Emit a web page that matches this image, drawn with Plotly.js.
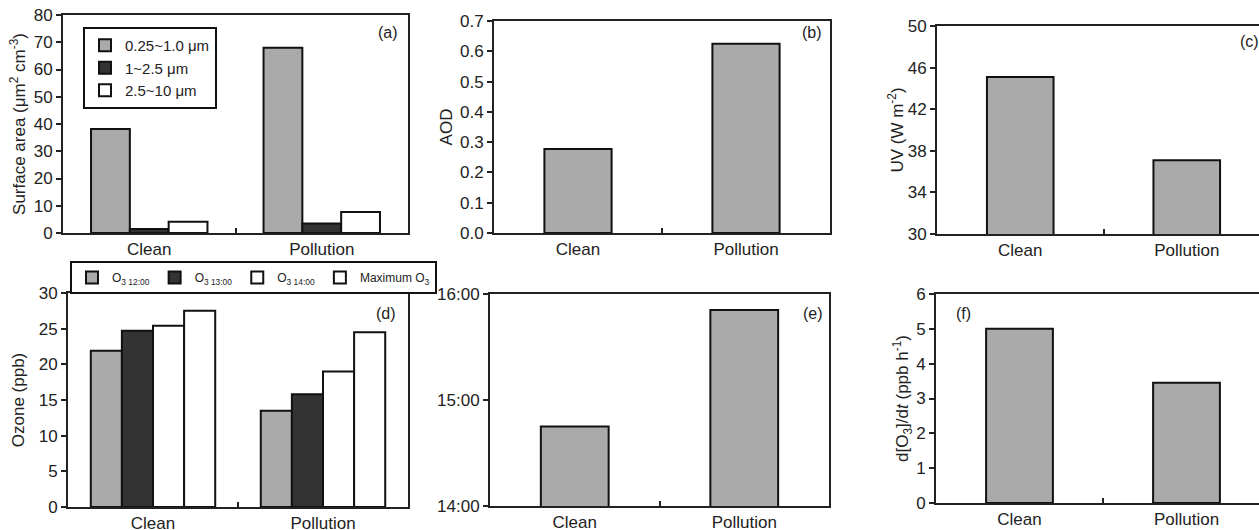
<!DOCTYPE html>
<html>
<head>
<meta charset="utf-8">
<script src="https://cdn.plot.ly/plotly-3.0.1.min.js"></script>
<style>
html, body { margin: 0; padding: 0; overflow: hidden; background: #fff; }
#chart { width: 1275px; height: 530px; }
</style>
</head>
<body>
<div id="chart"></div>
<script>
// ---- data ----
const categories = ['Clean', 'Pollution'];
const sizeBins = ['0.25~1.0 \u03bcm', '1~2.5 \u03bcm', '2.5~10 \u03bcm'];
const surfaceFine = [38.2, 68.0];
const surfaceMid = [1.5, 3.5];
const surfaceCoarse = [4.1, 7.7];
const aod = [0.277, 0.625];
const uv = [45.1, 37.1];
const ozoneNames = ['O<sub>3 12:00</sub>', 'O<sub>3 13:00</sub>', 'O<sub>3 14:00</sub>', 'Maximum O<sub>3</sub>'];
const ozone1200 = [21.9, 13.5];
const ozone1300 = [24.7, 15.8];
const ozone1400 = [25.4, 19.0];
const ozoneMax = [27.5, 24.5];
const peakHour = [14.75, 15.85];          // time of O3 maximum, decimal hours
const peakTickVals = [14, 15, 16];
const peakTickText = ['14:00', '15:00', '16:00'];
const dO3dt = [5.0, 3.45];

// ---- styling ----
const W = 1275, H = 530;
const FONT = 'Liberation Sans, Arial, sans-serif';
const GRAY = '#aaaaaa', DARK = '#333333', WHITE = '#ffffff';
const xs = categories.map((_, i) => i);

function dx(l, r) { return [l / W, r / W]; }
function dy(t, b) { return [1 - b / H, 1 - t / H]; }

function bar(y, xa, ya, color, name, opts) {
  return Object.assign({
    type: 'bar', x: xs, y: y, xaxis: xa, yaxis: ya, name: name,
    marker: { color: color, line: { color: '#111', width: 2 } },
    showlegend: false, hoverinfo: 'skip'
  }, opts || {});
}

const traces = [];
// (a)
const aw = 0.225;
[[surfaceFine, GRAY], [surfaceMid, DARK], [surfaceCoarse, WHITE]].forEach((p, i) => {
  traces.push(bar(p[0], 'x', 'y', p[1], sizeBins[i], { width: aw, offset: -1.5 * aw + i * aw, showlegend: true, legend: 'legend' }));
});
// (b)
traces.push(bar(aod, 'x2', 'y2', GRAY, 'AOD', { width: 0.4, offset: -0.2 }));
// (c) bars start at 0 and are clipped by the axis range
traces.push(bar(uv, 'x3', 'y3', GRAY, 'UV', { width: 0.4, offset: -0.2 }));
// (d)
const dw = 0.183;
[[ozone1200, GRAY], [ozone1300, DARK], [ozone1400, WHITE], [ozoneMax, WHITE]].forEach((p, i) => {
  traces.push(bar(p[0], 'x4', 'y4', p[1], ozoneNames[i], { width: dw, offset: -2 * dw + i * dw, showlegend: true, legend: 'legend2' }));
});
// (e)
traces.push(bar(peakHour, 'x5', 'y5', GRAY, 'Peak time', { width: 0.4, offset: -0.2 }));
// (f)
traces.push(bar(dO3dt, 'x6', 'y6', GRAY, 'dO3/dt', { width: 0.4, offset: -0.2 }));

function xaxis(domain, anchor) {
  return {
    domain: domain, anchor: anchor, range: [-0.5, 1.5],
    tickmode: 'array', tickvals: xs, ticktext: categories, ticks: '',
    tickfont: { size: 17, color: '#222', family: FONT },
    showline: true, linecolor: '#222', linewidth: 2, mirror: true,
    showgrid: false, zeroline: false, fixedrange: true,
    minor: { tickmode: 'array', tickvals: [0.5], ticks: 'inside', ticklen: 5, tickwidth: 2, tickcolor: '#222', showgrid: false }
  };
}
function yaxis(domain, anchor, range, extra, title, standoff) {
  const ax = Object.assign({
    domain: domain, anchor: anchor, range: range,
    ticks: 'outside', ticklen: 5, tickwidth: 2, tickcolor: '#222',
    tickfont: { size: 17, color: '#222', family: FONT },
    showline: true, linecolor: '#222', linewidth: 2, mirror: true,
    showgrid: false, zeroline: false, fixedrange: true, automargin: false
  }, extra);
  if (title) ax.title = { text: title, font: { size: 17, color: '#222', family: FONT }, standoff: standoff };
  return ax;
}

const layout = {
  width: W, height: H,
  margin: { l: 0, r: 0, t: 0, b: 0 },
  paper_bgcolor: '#fff', plot_bgcolor: '#fff',
  font: { family: FONT, color: '#222' },
  barmode: 'overlay',
  xaxis: xaxis(dx(63, 408), 'y'),
  yaxis: yaxis(dy(15, 233), 'x', [0, 80], { dtick: 10 }, 'Surface area (\u03bcm<sup>2</sup> cm<sup>-3</sup>)', 4),
  xaxis2: xaxis(dx(494, 830), 'y2'),
  yaxis2: yaxis(dy(21, 233), 'x2', [0, 0.7], { dtick: 0.1, tickformat: '.1f' }, 'AOD', 3),
  xaxis3: xaxis(dx(937, 1270), 'y3'),
  yaxis3: yaxis(dy(26, 234), 'x3', [30, 50], { tickmode: 'array', tickvals: [30, 34, 38, 42, 46, 50] }, 'UV (W m<sup>-2</sup>)', 0),
  xaxis4: xaxis(dx(68, 408), 'y4'),
  yaxis4: yaxis(dy(293, 507), 'x4', [0, 30], { dtick: 5 }, 'Ozone (ppb)', 10),
  xaxis5: xaxis(dx(490, 829), 'y5'),
  yaxis5: yaxis(dy(294, 506), 'x5', [14, 16], { tickmode: 'array', tickvals: peakTickVals, ticktext: peakTickText }, null, 0),
  xaxis6: xaxis(dx(936, 1270), 'y6'),
  yaxis6: yaxis(dy(294, 503), 'x6', [0, 6], { dtick: 1 }, 'd[O<sub>3</sub>]/d<i>t</i> (ppb h<sup>-1</sup>)', 3),
  legend: {
    x: 83 / W, y: 1 - 27 / H, xanchor: 'left', yanchor: 'top',
    bordercolor: '#111', borderwidth: 2, bgcolor: '#fff',
    font: { size: 15, family: FONT, color: '#222' },
    tracegroupgap: 0, itemwidth: 30
  },
  legend2: {
    x: 70 / W, y: 1 - 294 / H, xanchor: 'left', yanchor: 'bottom',
    orientation: 'h',
    bordercolor: '#111', borderwidth: 2, bgcolor: '#fff',
    font: { size: 12, family: FONT, color: '#222' },
    itemwidth: 30
  },
  annotations: [
    ['(a)', 388, 33], ['(b)', 812, 33], ['(c)', 1249, 42],
    ['(d)', 386, 313], ['(e)', 813, 313], ['(f)', 963, 313]
  ].map(a => ({
    text: a[0], xref: 'paper', yref: 'paper', x: a[1] / W, y: 1 - a[2] / H,
    xanchor: 'center', yanchor: 'middle', showarrow: false,
    font: { size: 16, family: FONT, color: '#222' }
  }))
};

Plotly.newPlot('chart', traces, layout, { staticPlot: true, displayModeBar: false });
</script>
</body>
</html>
